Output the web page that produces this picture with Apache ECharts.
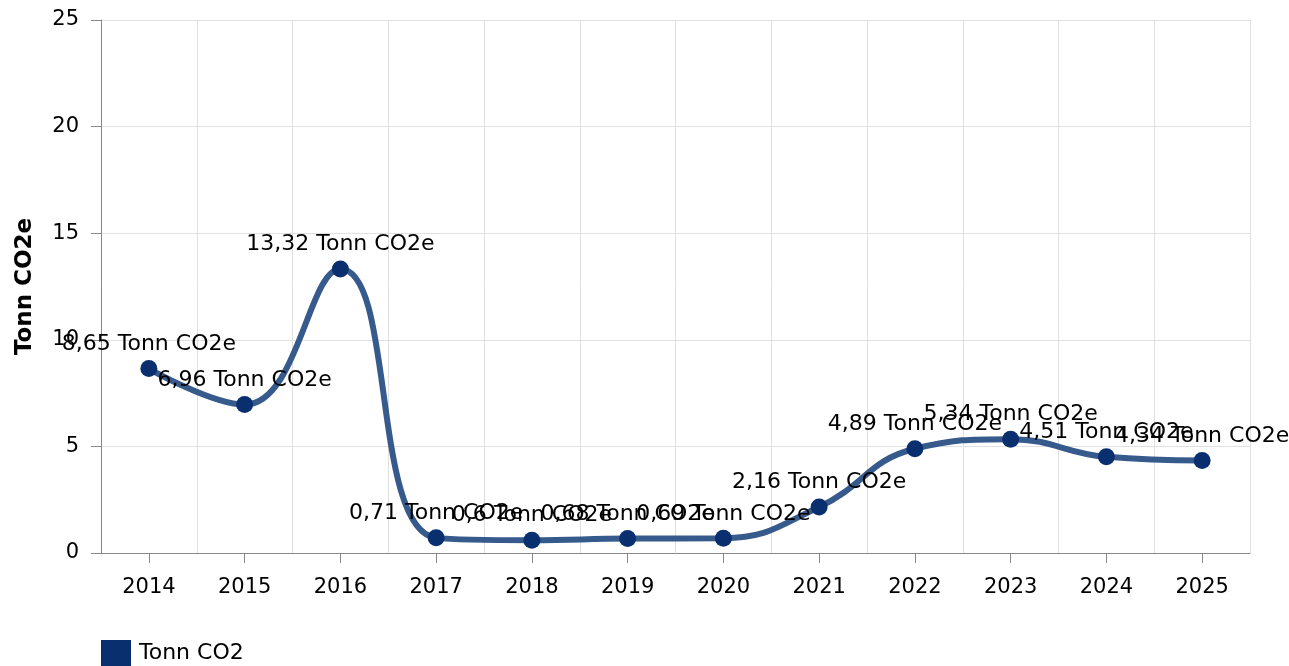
<!DOCTYPE html>
<html>
<head>
<meta charset="utf-8">
<script src="https://cdn.jsdelivr.net/npm/echarts@6/dist/echarts.min.js"></script>
<style>
html,body{margin:0;padding:0;background:#fff;}
#chart{width:1289px;height:666px;}
</style>
</head>
<body>
<div id="chart"></div>
<script>
var categories = ['2014','2015','2016','2017','2018','2019','2020','2021','2022','2023','2024','2025'];
var values = [8.65, 6.96, 13.32, 0.71, 0.6, 0.68, 0.69, 2.16, 4.89, 5.34, 4.51, 4.34];
var seriesName = 'Tonn CO2';
var yAxisName = 'Tonn CO2e';
var unitSuffix = ' Tonn CO2e';

var FONT = 'DejaVu Sans';
var chart = echarts.init(document.getElementById('chart'));
chart.setOption({
  animation: false,
  textStyle: {fontFamily: FONT},
  grid: {left: 101, right: 39, top: 20, bottom: 113, containLabel: false, show: false},
  legend: {
    show: true, left: 96, top: 635, itemWidth: 30, itemHeight: 26, itemGap: 8,
    icon: 'rect',
    textStyle: {fontFamily: FONT, fontSize: 22, color: '#000', padding: [4, 0, 0, 3]},
    data: [{name: seriesName, itemStyle: {color: '#0a2f6e'}}]
  },
  xAxis: {
    type: 'category', data: categories, boundaryGap: true,
    axisLine: {show: true, lineStyle: {color: '#888', width: 1}},
    axisTick: {show: true, alignWithLabel: true, length: 10, lineStyle: {color: '#888'}},
    axisLabel: {color: '#000', fontSize: 21, fontFamily: FONT, margin: 24},
    splitLine: {show: true, lineStyle: {color: '#e0e0e0'}}
  },
  yAxis: {
    type: 'value', min: 0, max: 25, interval: 5,
    name: yAxisName, nameLocation: 'middle', nameGap: 64, nameRotate: 90,
    nameTextStyle: {fontWeight: 'bold', fontSize: 23, color: '#000', fontFamily: FONT},
    axisLine: {show: true, lineStyle: {color: '#888', width: 1}},
    axisTick: {show: true, length: 10, lineStyle: {color: '#888'}},
    axisLabel: {color: '#000', fontSize: 21, fontFamily: FONT, margin: 22},
    splitLine: {show: true, lineStyle: {color: '#e0e0e0'}}
  },
  series: [{
    name: seriesName, type: 'line', data: values, smooth: 0.45,
    symbol: 'circle', symbolSize: 17,
    lineStyle: {color: '#375a8d', width: 6},
    itemStyle: {color: '#0a2f6e'},
    label: {
      show: true, position: 'top', distance: 5, color: '#000', fontSize: 22, fontFamily: FONT,
      formatter: function(p){ return String(p.value).replace('.', ',') + unitSuffix; }
    },
    labelLayout: {hideOverlap: false}
  }]
});
</script>
</body>
</html>
